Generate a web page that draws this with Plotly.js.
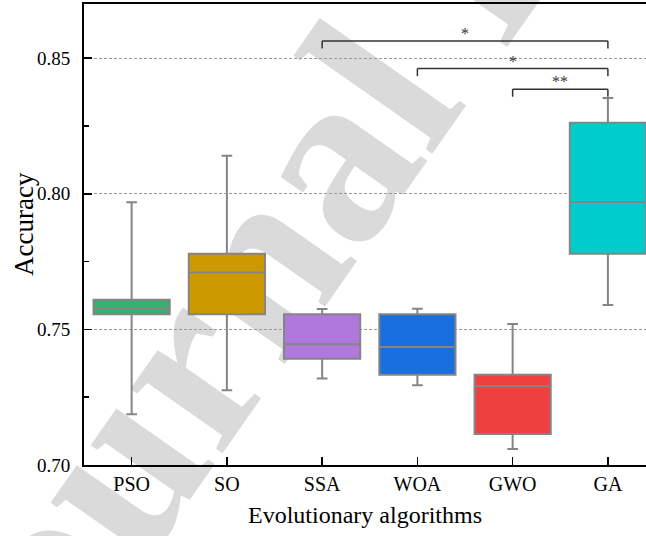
<!DOCTYPE html>
<html><head><meta charset="utf-8">
<script src="https://cdn.plot.ly/plotly-3.0.1.min.js"></script>
<style>
html,body{margin:0;padding:0;background:#fff;}
#wrap{position:relative;width:646px;height:536px;overflow:hidden;}
#wm{position:absolute;left:0;top:0;}
#chart{position:absolute;left:0;top:0;width:646px;height:536px;}
</style></head><body>
<div id="wrap">
<svg id="wm" width="646" height="536"><text x="0" y="771" transform="rotate(-55 0 771)" font-family="Liberation Serif" font-weight="bold" font-size="245" fill="#dadada">Journal Pre-proof</text></svg>
<div id="chart"></div>
</div>
<script>
// ---- data ----
const categories   = ['PSO', 'SO', 'SSA', 'WOA', 'GWO', 'GA'];
const lowerWhisker = [0.7187, 0.7276, 0.7319, 0.7294, 0.7059, 0.7590];
const q1Values     = [0.7556, 0.7556, 0.7392, 0.7333, 0.7114, 0.7779];
const medianValues = [0.7577, 0.7710, 0.7445, 0.7435, 0.7290, 0.7970];
const q3Values     = [0.7609, 0.7779, 0.7556, 0.7556, 0.7333, 0.8262];
const upperWhisker = [0.7969, 0.8140, 0.7575, 0.7576, 0.7520, 0.8353];
const yTickValues  = [0.70, 0.75, 0.80, 0.85];
const sigFrom      = ['SSA', 'WOA', 'GWO'];
const sigTo        = ['GA', 'GA', 'GA'];
const sigLabels    = ['*', '*', '**'];

// ---- styles ----
const boxColors = ['#36b06e', '#cc9900', '#b077dc', '#1a6fdf', '#ef4040', '#00cccc'];
const FONT = 'Liberation Serif, Times New Roman, serif';

const traces = categories.map((c, i) => ({
  type: 'box',
  x: [c],
  q1: [q1Values[i]],
  median: [medianValues[i]],
  q3: [q3Values[i]],
  lowerfence: [lowerWhisker[i]],
  upperfence: [upperWhisker[i]],
  fillcolor: boxColors[i],
  line: {color: '#858585', width: 2},
  width: 0.8,
  whiskerwidth: 0.14,
  boxpoints: false,
  showlegend: false,
  hoverinfo: 'skip'
}));

// significance brackets (heights are layout positions)
const bracketY = [0.8564, 0.8462, 0.8386];
const bracketDrop = 0.0028;
const shapes = [];
const annotations = [];
sigLabels.forEach((lab, k) => {
  const a = categories.indexOf(sigFrom[k]);
  const b = categories.indexOf(sigTo[k]);
  const y = bracketY[k];
  const ln = {color: '#333333', width: 1.5};
  shapes.push({type: 'line', xref: 'x', yref: 'y', x0: a, x1: b, y0: y, y1: y, line: ln});
  shapes.push({type: 'line', xref: 'x', yref: 'y', x0: a, x1: a, y0: y, y1: y - bracketDrop, line: ln});
  shapes.push({type: 'line', xref: 'x', yref: 'y', x0: b, x1: b, y0: y, y1: y - bracketDrop, line: ln});
  annotations.push({xref: 'x', yref: 'y', x: (a + b) / 2, y: y, text: lab, showarrow: false,
    yanchor: 'bottom', yshift: -3, font: {family: FONT, size: 16, color: '#333333'}});
});

// y-axis title (placed as an annotation so it can sit slightly above the axis centre)
annotations.push({xref: 'paper', yref: 'paper', x: -0.1068, y: 0.523, xanchor: 'center', yanchor: 'middle',
  text: 'Accuracy', textangle: -90, showarrow: false, font: {family: FONT, size: 27, color: '#000'}});

const layout = {
  width: 646, height: 536,
  margin: {l: 84, r: 0, t: 4, b: 71},
  paper_bgcolor: 'rgba(0,0,0,0)',
  plot_bgcolor: 'rgba(0,0,0,0)',
  boxmode: 'overlay',
  font: {family: FONT, color: '#000'},
  xaxis: {
    type: 'category', categoryorder: 'array', categoryarray: categories,
    range: [-0.5, 5.4],
    showline: true, linecolor: '#000', linewidth: 2, mirror: true,
    ticks: 'inside', ticklen: 8, tickwidth: 1.5, tickcolor: '#000',
    tickfont: {family: FONT, size: 20, color: '#000'},
    ticklabelstandoff: 0,
    showgrid: false, zeroline: false,
    title: {text: 'Evolutionary algorithms', font: {family: FONT, size: 24, color: '#000'}, standoff: 12}
  },
  yaxis: {
    range: [0.70, 0.87],
    tickvals: yTickValues, tickformat: '.2f',
    showline: true, linecolor: '#000', linewidth: 2, mirror: false,
    ticks: 'inside', ticklen: 8, tickwidth: 1.5, tickcolor: '#000',
    minor: {dtick: 0.025, tick0: 0.70, ticks: 'inside', ticklen: 5, tickwidth: 1.5, tickcolor: '#000', showgrid: false},
    tickfont: {family: FONT, size: 19, color: '#000'},
    ticklabelstandoff: 8,
    showgrid: true, gridcolor: '#9a9a9a', gridwidth: 1, griddash: '3px,2px',
    zeroline: false
  },
  shapes: shapes,
  annotations: annotations
};

Plotly.newPlot('chart', traces, layout, {displayModeBar: false, staticPlot: true});
</script>
</body></html>
